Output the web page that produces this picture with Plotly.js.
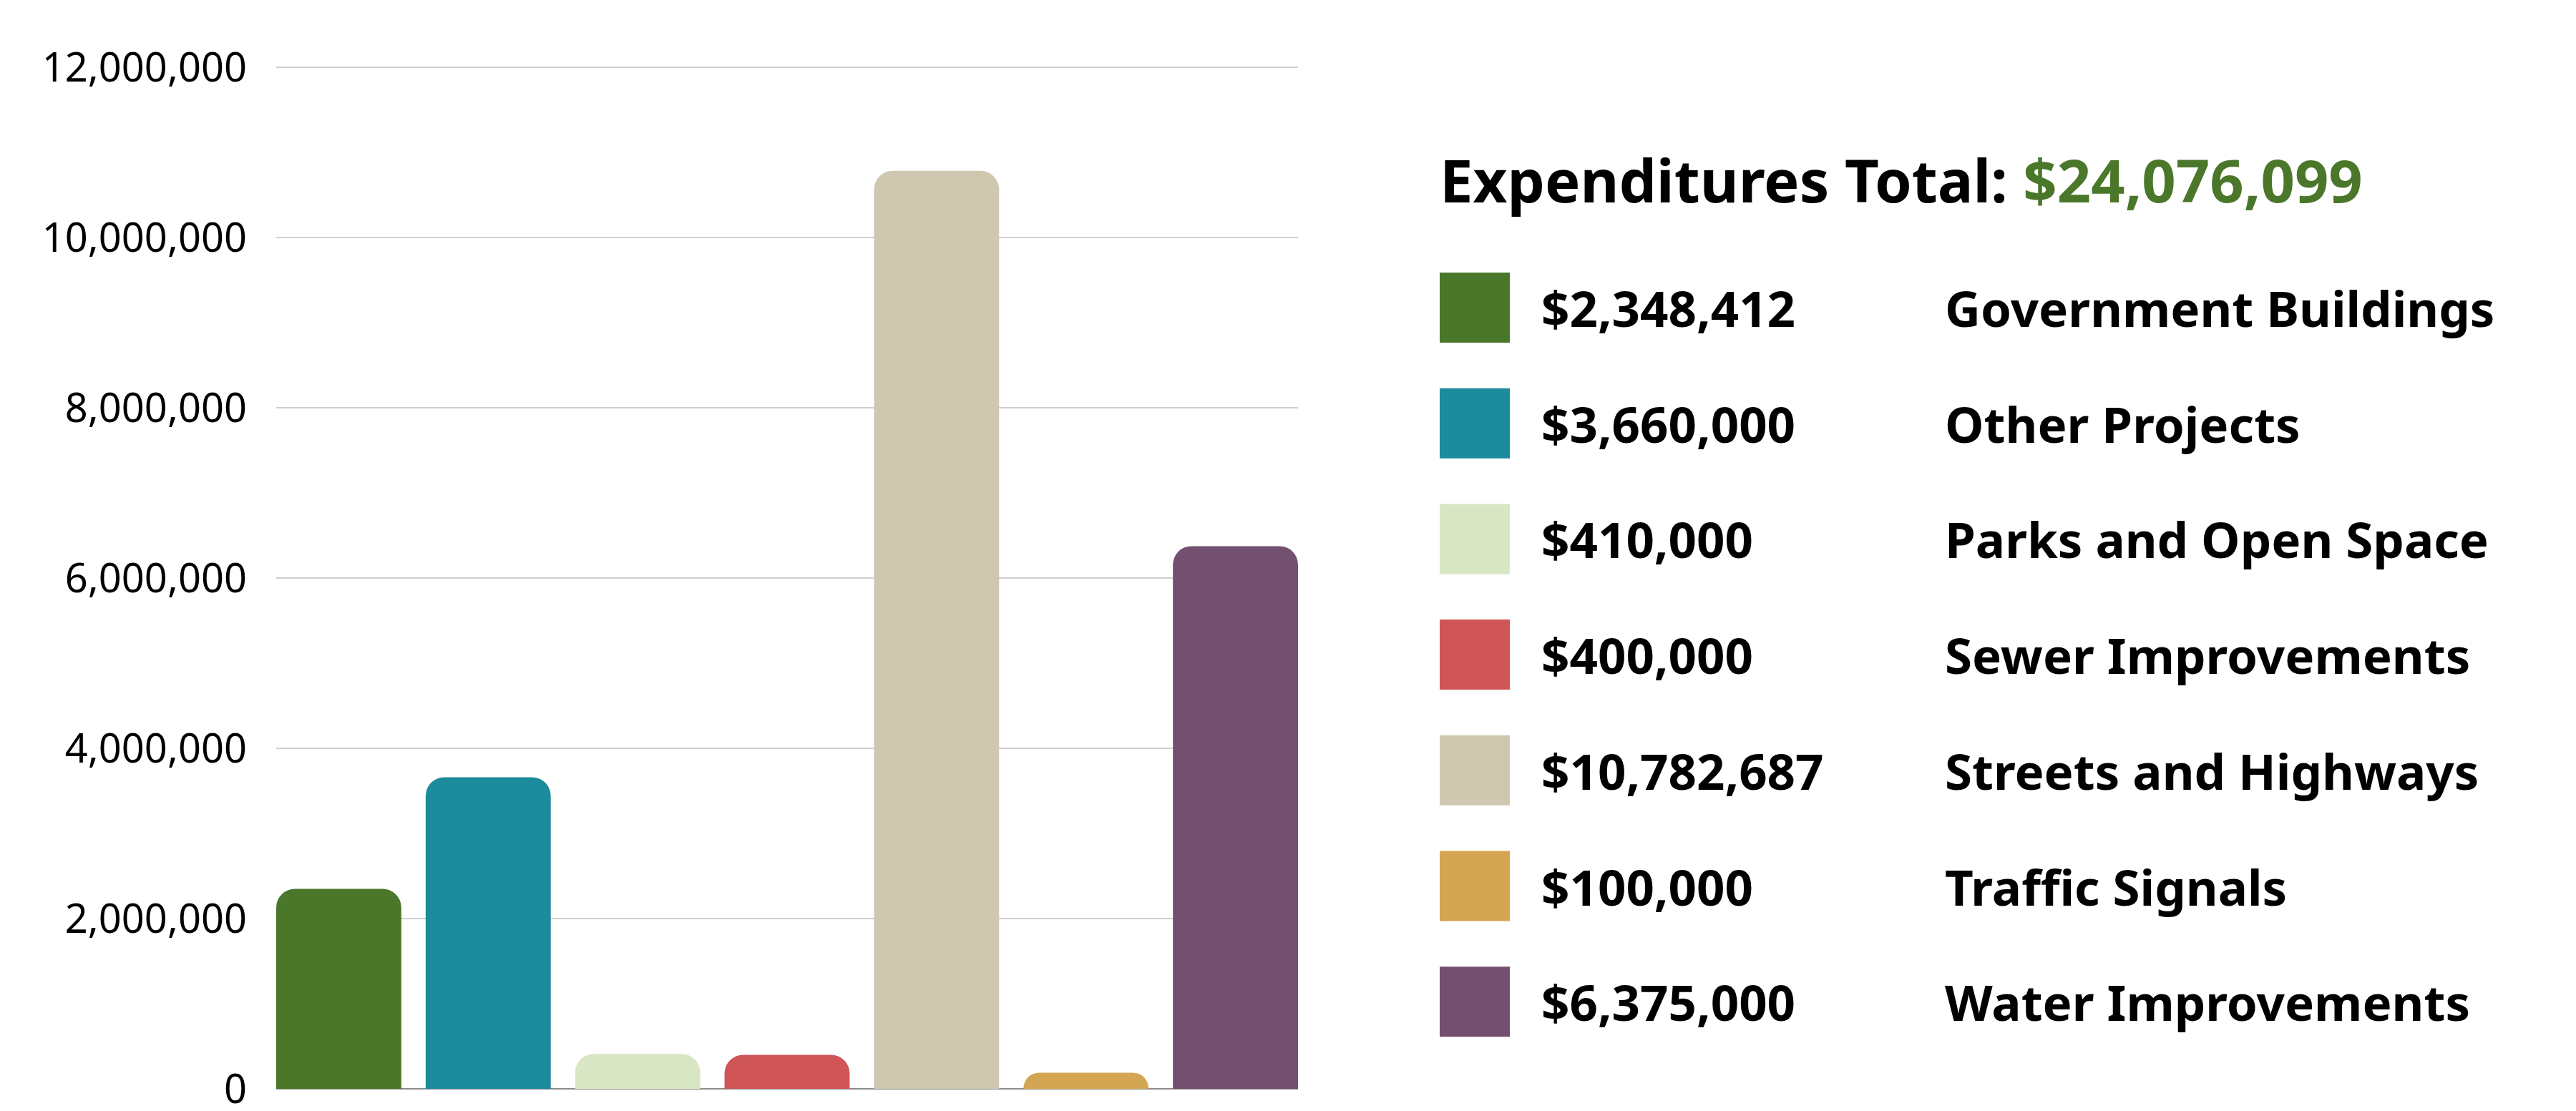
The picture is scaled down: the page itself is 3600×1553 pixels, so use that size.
<!DOCTYPE html>
<html>
<head>
<meta charset="utf-8">
<script src="https://cdn.plot.ly/plotly-3.0.1.min.js"></script>
<style>
  html, body { margin: 0; padding: 0; background: #fff; }
  #chart { width: 3600px; height: 1553px; }
</style>
</head>
<body>
<div id="chart"></div>
<script>
// categories, in legend order
const categories = ['Government Buildings', 'Other Projects', 'Parks and Open Space',
    'Sewer Improvements', 'Streets and Highways', 'Traffic Signals', 'Water Improvements'];
// amounts printed in the legend
const amounts = [2348412, 3660000, 410000, 400000, 10782687, 100000, 6375000];
// bar heights as drawn (the small traffic bar is drawn taller than its amount)
const barHeights = [2348412, 3660000, 410000, 400000, 10782687, 190000, 6375000];
const colors = ['#4a7729', '#1c8b9b', '#d9e6c4', '#cf5557', '#d0c7b1', '#d4a552', '#73506f'];
const yTicks = [0, 2000000, 4000000, 6000000, 8000000, 10000000, 12000000];

const W = 3600, H = 1553;
// top margin is 4px short of the 12M line so that its gridline is drawn
const M = { l: 386, r: 1786, t: 90, b: 31 };
const plotW = W - M.l - M.r, plotH = H - M.t - M.b;
const px2x = px => (px - M.l) / plotW;
const py2y = py => (H - M.b - py) / plotH;
const yMax = 12000000 * plotH / (plotH - 4);

const fmt = v => '$' + v.toLocaleString('en-US');
const total = amounts.reduce((a, b) => a + b, 0);

const bargap = 0.163;
const half = (1 - bargap) / 2;

const trace = {
    type: 'bar',
    x: categories,
    y: barHeights,
    marker: { color: colors, cornerradius: 26, line: { width: 0 } },
    hoverinfo: 'x+y'
};

// legend built by hand: title, swatches, amounts, names
const annotations = [{
    xref: 'paper', yref: 'paper',
    x: px2x(2010), y: py2y(250),
    xanchor: 'left', yanchor: 'middle',
    showarrow: false,
    text: 'Expenditures Total: <span style="color:#4a7729">' + fmt(total) + '</span>',
    font: { family: 'Noto Sans', size: 83, weight: 700, color: '#000' }
}];
const shapes = [];
categories.forEach((name, i) => {
    const cy = 430 + i * 161.7;
    shapes.push({
        type: 'rect', xref: 'paper', yref: 'paper',
        x0: px2x(2012), x1: px2x(2110),
        y0: py2y(cy + 49), y1: py2y(cy - 49),
        fillcolor: colors[i], line: { width: 0 }
    });
    annotations.push({
        xref: 'paper', yref: 'paper',
        x: px2x(2152), y: py2y(cy),
        xanchor: 'left', yanchor: 'middle', showarrow: false,
        text: fmt(amounts[i]),
        font: { family: 'Noto Sans', size: 69, weight: 700, color: '#000' }
    });
    annotations.push({
        xref: 'paper', yref: 'paper',
        x: px2x(2716), y: py2y(cy),
        xanchor: 'left', yanchor: 'middle', showarrow: false,
        text: name,
        font: { family: 'Noto Sans', size: 69, weight: 700, color: '#000' }
    });
});

const layout = {
    width: W, height: H,
    margin: M,
    paper_bgcolor: '#fff', plot_bgcolor: '#fff',
    showlegend: false,
    bargap: bargap,
    font: { family: 'Noto Sans', color: '#000' },
    xaxis: {
        type: 'category',
        range: [-half, categories.length - 1 + half],
        showticklabels: false, showgrid: false, zeroline: false,
        showline: false, ticks: ''
    },
    yaxis: {
        range: [0, yMax],
        tickvals: yTicks,
        tickformat: ',d',
        ticks: '',
        ticklabelstandoff: 40,
        ticklabeloverflow: 'allow',
        tickfont: { family: 'Noto Sans', size: 56, color: '#000' },
        showgrid: true, gridcolor: '#cfcfcf', gridwidth: 2,
        zeroline: true, zerolinecolor: '#8c8c8c', zerolinewidth: 2,
        showline: false
    },
    annotations: annotations,
    shapes: shapes
};

Plotly.newPlot('chart', [trace], layout, { displayModeBar: false, staticPlot: true });
</script>
</body>
</html>
